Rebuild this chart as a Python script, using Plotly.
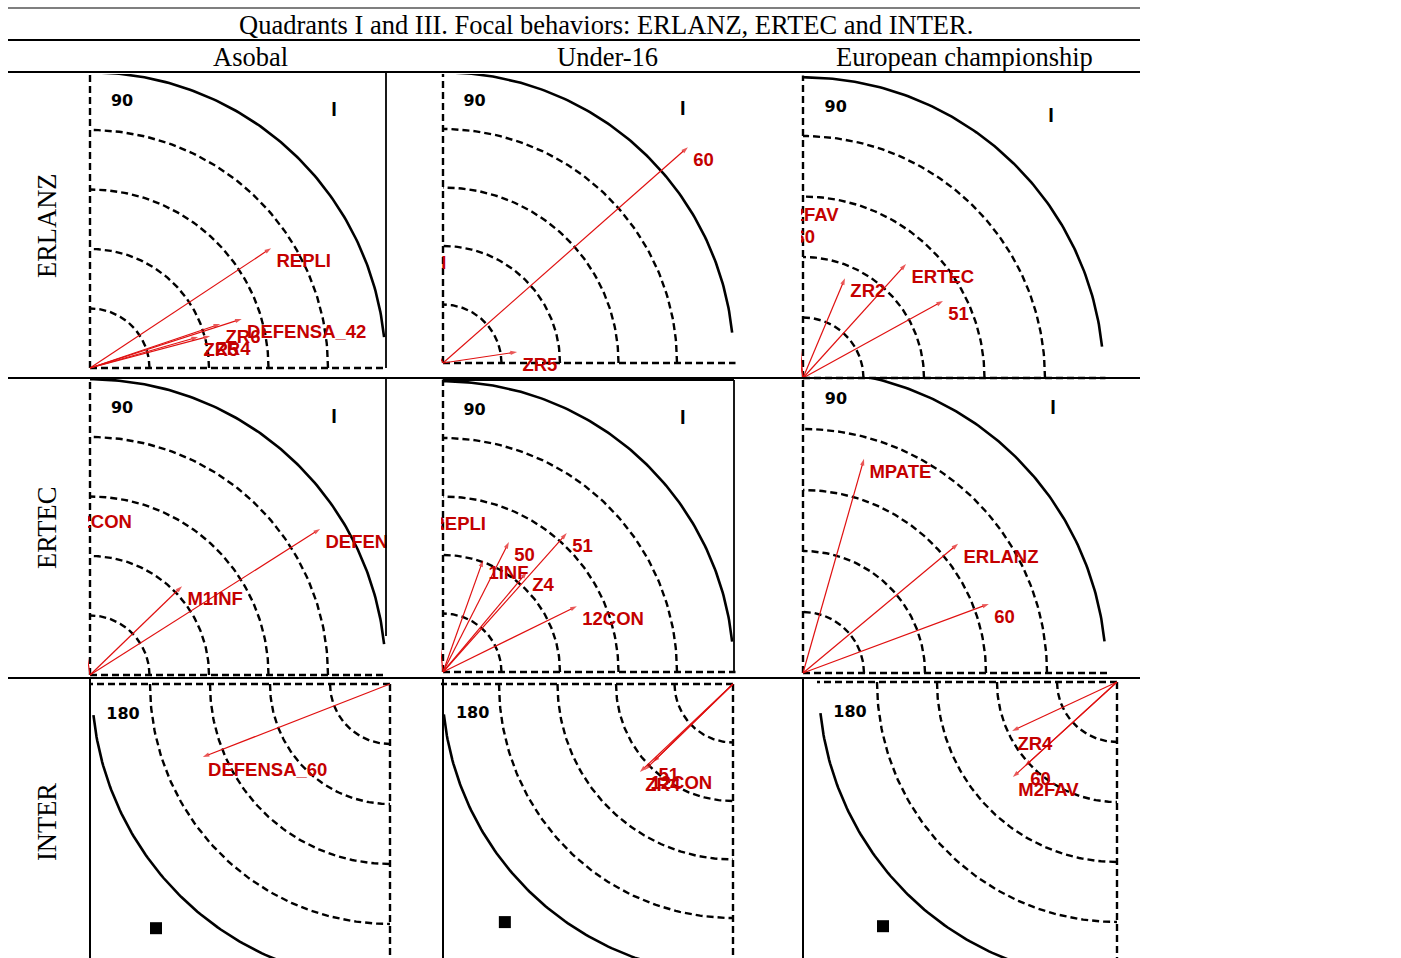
import numpy as np
import plotly.graph_objects as go

W, H = 1401, 958

# ---------------- text content ----------------
TITLE = "Quadrants I and III. Focal behaviors: ERLANZ, ERTEC and INTER."
COLUMNS = ["Asobal", "Under-16", "European championship"]
ROWS = ["ERLANZ", "ERTEC", "INTER"]

# ---------------- data: vectors (label, radius in ring units, angle in degrees) ----------------
RINGS = [1, 2, 3, 4]
OUTER_RING = 4.97
AXIS_LEN = 5.0

erlanz_asobal_labels = ["REPLI", "DEFENSA_42", "ZR6", "ZR4", "ZR5"]
erlanz_asobal_r = [3.65, 2.68, 2.31, 2.09, 1.89]
erlanz_asobal_deg = [33.5, 17.9, 18.7, 14.9, 16.0]

erlanz_u16_labels = ["60", "ZR5", "REPLI"]
erlanz_u16_r = [5.58, 1.28, 2.16]
erlanz_u16_deg = [41.4, 8.5, 116.5]

erlanz_euro_labels = ["ERTEC", "ZR2", "51", "M2FAV", "60"]
erlanz_euro_r = [2.54, 1.79, 2.64, 2.95, 2.56]
erlanz_euro_deg = [47.9, 67.2, 28.8, 99.7, 95.2]

ertec_asobal_labels = ["DEFENSA_60", "M1INF", "12CON"]
ertec_asobal_r = [4.58, 2.15, 2.82]
ertec_asobal_deg = [32.4, 44.0, 98.6]

ertec_u16_labels = ["51", "50", "1INF", "Z4", "12CON", "REPLI"]
ertec_u16_r = [3.18, 2.49, 2.03, 2.23, 2.55, 2.77]
ertec_u16_deg = [48.3, 63.1, 70.3, 50.0, 26.2, 96.0]

ertec_euro_labels = ["MPATE", "ERLANZ", "60"]
ertec_euro_r = [3.65, 3.31, 3.25]
ertec_euro_deg = [74.1, 39.8, 20.4]

inter_asobal_labels = ["DEFENSA_60"]
inter_asobal_r = [3.35]
inter_asobal_deg = [201.3]

inter_u16_labels = ["51", "12CON", "ZR4"]
inter_u16_r = [1.91, 2.10, 2.19]
inter_u16_deg = [224.3, 224.3, 223.4]

inter_euro_labels = ["ZR4", "60", "M2FAV"]
inter_euro_r = [1.93, 2.08, 2.35]
inter_euro_deg = [205.0, 222.4, 222.4]

QUAD_I_TEXT = "I"
QUAD_I_ANGLE_LABEL = "90"
QUAD_III_ANGLE_LABEL = "180"

# ---------------- panel layout (pixel geometry) ----------------
# origin px, px per ring unit, quadrant, x-domain px, y-domain px (top, bottom)
PANELS = [
    dict(o=(90, 368), u=59.5, q=1, xd=(88, 387), yd=(74, 380),
         data=(erlanz_asobal_labels, erlanz_asobal_r, erlanz_asobal_deg)),
    dict(o=(443, 363), u=58.5, q=1, xd=(441, 736), yd=(74, 380),
         data=(erlanz_u16_labels, erlanz_u16_r, erlanz_u16_deg)),
    dict(o=(803, 378), u=60.5, q=1, xd=(801, 1125), yd=(74, 380),
         data=(erlanz_euro_labels, erlanz_euro_r, erlanz_euro_deg)),
    dict(o=(90, 675), u=59.5, q=1, xd=(88, 387), yd=(379, 678),
         data=(ertec_asobal_labels, ertec_asobal_r, ertec_asobal_deg)),
    dict(o=(443, 672), u=58.5, q=1, xd=(441, 736), yd=(379, 678),
         data=(ertec_u16_labels, ertec_u16_r, ertec_u16_deg)),
    dict(o=(803, 673), u=61.0, q=1, xd=(801, 1125), yd=(379, 678),
         data=(ertec_euro_labels, ertec_euro_r, ertec_euro_deg)),
    dict(o=(390, 684), u=60.0, q=3, xd=(88, 393), yd=(679, 958),
         data=(inter_asobal_labels, inter_asobal_r, inter_asobal_deg)),
    dict(o=(733, 684), u=58.5, q=3, xd=(441, 736), yd=(679, 958),
         data=(inter_u16_labels, inter_u16_r, inter_u16_deg)),
    dict(o=(1117, 682), u=60.0, q=3, xd=(801, 1120), yd=(679, 958),
         data=(inter_euro_labels, inter_euro_r, inter_euro_deg)),
]

RED = "#e01010"
LABEL_RED = "#c40000"
DASH = "7px,4px"


def pol(r, deg):
    t = np.deg2rad(np.asarray(deg, dtype=float))
    return np.asarray(r, dtype=float) * np.cos(t), np.asarray(r, dtype=float) * np.sin(t)


fig = go.Figure()
layout_axes = {}

for i, p in enumerate(PANELS):
    k = "" if i == 0 else str(i + 1)
    xa, ya = "x" + k, "y" + k
    ox, oy = p["o"]
    u = p["u"]
    x0, x1 = p["xd"]
    yt, yb = p["yd"]
    layout_axes["xaxis" + k] = dict(
        domain=[x0 / W, x1 / W], range=[(x0 - ox) / u, (x1 - ox) / u],
        visible=False, fixedrange=True, anchor=ya)
    layout_axes["yaxis" + k] = dict(
        domain=[1 - yb / H, 1 - yt / H], range=[(oy - yb) / u, (oy - yt) / u],
        visible=False, fixedrange=True, anchor=xa)

    base = 0 if p["q"] == 1 else 180
    # dashed rings
    for r in RINGS:
        ang = np.linspace(base, base + 90, 90)
        cx, cy = pol(r, ang)
        fig.add_trace(go.Scatter(x=cx, y=cy, mode="lines", xaxis=xa, yaxis=ya,
                                 line=dict(color="black", width=2.4, dash=DASH),
                                 hoverinfo="skip", showlegend=False))
    # solid outer ring
    ang = np.linspace(base + 6, base + 90, 120)
    cx, cy = pol(OUTER_RING, ang)
    fig.add_trace(go.Scatter(x=cx, y=cy, mode="lines", xaxis=xa, yaxis=ya,
                             line=dict(color="black", width=2.6),
                             hoverinfo="skip", showlegend=False))
    # dashed axes
    s = 1 if p["q"] == 1 else -1
    fig.add_trace(go.Scatter(x=[0, 0, None, 0, s * AXIS_LEN], y=[0, s * AXIS_LEN, None, 0, 0],
                             mode="lines", xaxis=xa, yaxis=ya,
                             line=dict(color="black", width=2.4, dash=DASH),
                             hoverinfo="skip", showlegend=False))
    # quadrant annotations
    if p["q"] == 1:
        fig.add_trace(go.Scatter(x=[0.54], y=[4.47], mode="text", text=[QUAD_I_ANGLE_LABEL],
                                 textfont=dict(family="DejaVu Sans", size=16, color="black", weight="bold"),
                                 xaxis=xa, yaxis=ya, hoverinfo="skip", showlegend=False))
        fig.add_trace(go.Scatter(x=[4.1], y=[4.32], mode="text", text=[QUAD_I_TEXT],
                                 textfont=dict(family="Liberation Sans", size=20, color="black", weight="bold"),
                                 xaxis=xa, yaxis=ya, hoverinfo="skip", showlegend=False))
    else:
        fig.add_trace(go.Scatter(x=[-4.45], y=[-0.52], mode="text", text=[QUAD_III_ANGLE_LABEL],
                                 textfont=dict(family="DejaVu Sans", size=16, color="black", weight="bold"),
                                 xaxis=xa, yaxis=ya, hoverinfo="skip", showlegend=False))
        fig.add_trace(go.Scatter(x=[-3.9], y=[-4.07], mode="markers",
                                 marker=dict(symbol="square", size=12, color="black"),
                                 xaxis=xa, yaxis=ya, hoverinfo="skip", showlegend=False))

    # vectors
    labels, rs, degs = p["data"]
    ex, ey = pol(rs, degs)
    xs, ys, sz, tx = [], [], [], []
    for lab, a, b in zip(labels, ex, ey):
        xs += [0, a, None]
        ys += [0, b, None]
        sz += [0, 7, 0]
        tx += ["", lab, ""]
    fig.add_trace(go.Scatter(
        x=xs, y=ys, mode="lines+markers+text", text=tx, textposition="bottom right",
        line=dict(color=RED, width=1.2),
        marker=dict(symbol="arrow", angleref="previous", size=sz, color=RED, line=dict(width=0)),
        textfont=dict(family="Liberation Sans, Arial, sans-serif", size=18.5, color=LABEL_RED,
                      weight="bold"),
        cliponaxis=True, xaxis=xa, yaxis=ya, hoverinfo="skip", showlegend=False))

# ---------------- table rules and frames ----------------
shapes = []


def hline(y, x0, x1, w):
    shapes.append(dict(type="line", xref="paper", yref="paper", x0=x0 / W, x1=x1 / W,
                       y0=1 - y / H, y1=1 - y / H, line=dict(color="black", width=w)))


def vline(x, y0, y1, w):
    shapes.append(dict(type="line", xref="paper", yref="paper", x0=x / W, x1=x / W,
                       y0=1 - y0 / H, y1=1 - y1 / H, line=dict(color="black", width=w)))


hline(8, 8, 1140, 1.2)
hline(40, 8, 1140, 2)
hline(72, 8, 1140, 2.2)
hline(378, 8, 1140, 2.2)
hline(678, 8, 1140, 2.2)
# picture frames
vline(386, 73, 368, 1.8)
vline(386, 379, 636, 1.8)
hline(380, 443, 734, 1.8)
vline(734, 380, 672, 1.8)
vline(90, 679, 958, 2)
vline(443, 679, 958, 2)
vline(803, 679, 958, 2)

# ---------------- text annotations ----------------
SERIF = "Liberation Serif, Times New Roman, serif"
FS = 26.5
annotations = [
    dict(text=TITLE, x=606 / W, y=1 - 25 / H, xref="paper", yref="paper", showarrow=False,
         xanchor="center", yanchor="middle", font=dict(family=SERIF, size=FS, color="black")),
]
for name, cx in zip(COLUMNS, [250, 607, 964]):
    annotations.append(dict(text=name, x=cx / W, y=1 - 57 / H, xref="paper", yref="paper",
                            showarrow=False, xanchor="center", yanchor="middle",
                            font=dict(family=SERIF, size=FS, color="black")))
for name, cy in zip(ROWS, [226, 528, 822]):
    annotations.append(dict(text=name, x=47 / W, y=1 - cy / H, xref="paper", yref="paper",
                            showarrow=False, xanchor="center", yanchor="middle", textangle=-90,
                            font=dict(family=SERIF, size=FS, color="black")))

fig.update_layout(
    width=W, height=H, margin=dict(l=0, r=0, t=0, b=0),
    paper_bgcolor="white", plot_bgcolor="rgba(0,0,0,0)",
    shapes=shapes, annotations=annotations, showlegend=False,
    **layout_axes,
)

fig.write_html("out.html", config={"displayModeBar": False},
               post_script="document.body.style.margin='0';")
